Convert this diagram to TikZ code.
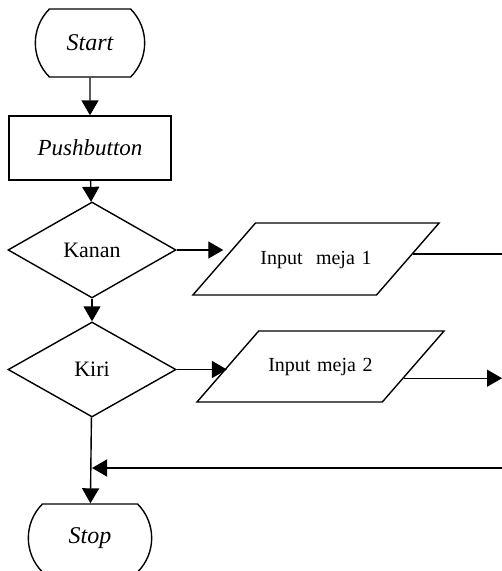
\documentclass[tikz,border=0pt]{standalone}
\usepackage{fontspec}
\setmainfont{Liberation Serif}
\usetikzlibrary{arrows.meta,shapes.geometric,shapes.misc}

\tikzset{
  terminal/.style={draw, rounded rectangle, rounded rectangle arc length=90,
    minimum height=68pt, font=\fontsize{24}{28}\selectfont\itshape},
  process/.style={draw, rectangle, minimum width=162pt, minimum height=64pt,
    font=\fontsize{23}{27}\selectfont\itshape},
  decision/.style={draw, diamond, minimum width=168pt, minimum height=96pt,
    inner sep=0pt, font=\fontsize{22}{26}\selectfont},
  io/.style={draw, trapezium, trapezium left angle=49, trapezium right angle=131,
    text width=120pt, align=center, inner xsep=0.5pt,
    text height=14pt, text depth=4pt, inner ysep=27pt,
    font=\fontsize{20}{24}\selectfont}
}

\begin{document}
\begin{tikzpicture}[x=1pt,y=-1pt,line width=1.4pt,>={Triangle[length=15pt,width=17pt]}]
\useasboundingbox (0,0) rectangle (502,571);
\node[terminal, minimum width=116pt] (1) at (90,43) {Start};
\node[process] (2) at (90,148) {Pushbutton};
\node[decision] (3) at (92,250) {Kanan};
\node[io] (4) at (316,259) {Input~~meja 1};
\node[decision, minimum height=95pt] (5) at (92,369.5) {Kiri};
\node[io, inner xsep=1.8pt, inner ysep=26.5pt] (6) at (320.5,366.5) {Input meja 2};
\node[terminal, minimum width=130pt] (7) at (90,538) {Stop};

\coordinate (a) at (502,254);
\coordinate (b) at (502,378);
\coordinate (c) at (502,468);

\draw[->] (1) to (2);
\draw[->] (2) to (3);
\draw[->] (3.east) to (3.east -| 4.west);
\draw (4.3) to (4.3 -| a);
\draw[->] (3) to (5);
\draw[->] (5.east) to (5.east -| 6.west);
\draw[->] (6.352) to (6.352 -| b);
\draw[->] (c) to (c -| 5.south);
\draw[->] (5) to (7);

\end{tikzpicture}
\end{document}
